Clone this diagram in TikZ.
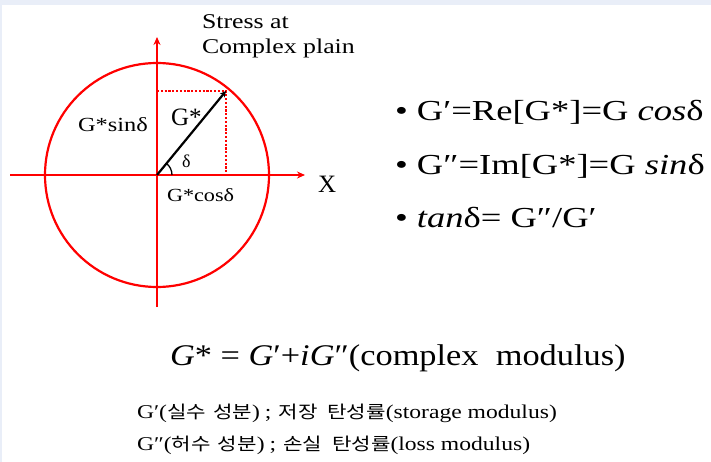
\documentclass[tikz,border=0pt]{standalone}
\usepackage{graphicx}
\usepackage{fontspec}
\setmainfont{Liberation Serif}
\newfontfamily\kr{Noto Sans CJK KR}
\usetikzlibrary{arrows.meta}
\definecolor{band}{HTML}{E9EEF8}
\definecolor{axisred}{HTML}{FF0000}
\newcommand{\fs}[1]{\fontsize{#1}{#1}\selectfont}
\newcommand{\sx}[2]{\scalebox{#1}[1]{#2}}
\newcommand{\hg}[1]{{\kr\fs{17.5}#1}}
\tikzset{
  redline/.style={draw=axisred, line width=2.2pt},
  redaxis/.style={draw=axisred, line width=2pt, -{Stealth[length=8pt,width=7pt]}},
  dotline/.style={draw=axisred, line width=2.2pt, dash pattern=on 2.2pt off 1.6pt},
  vec/.style={draw=black, line width=2.2pt, -{Stealth[length=6pt,width=6pt]}},
  lbl/.style={anchor=base west, inner sep=0pt, outer sep=0pt, text=black},
}
\begin{document}
\begin{tikzpicture}[x=1pt,y=-1pt]
\useasboundingbox (0,0) rectangle (711,462);
\fill[white] (0,0) rectangle (711,462);
\fill[band] (0,0) rectangle (711,5);
\fill[band] (0,0) rectangle (2,462);
% axes and circle
\coordinate (O) at (157,175);
\coordinate (xl) at (10,175);
\coordinate (xr) at (305,175);
\coordinate (yb) at (157,307);
\coordinate (yt) at (157,37);
\coordinate (P) at (226,91);
\coordinate (Px) at (226,175);
\coordinate (Py) at (157,91);
\draw[redline] (O) circle[radius=112];
\draw[redaxis] (xl) -- (xr);
\draw[redaxis] (yb) -- (yt);
\draw[dotline] (Py) -- (P) -- (Px);
\draw[vec] (O) -- (P);
\draw[black, line width=1.3pt] ([shift={(0:15)}]O) arc[start angle=0, end angle=-51, radius=15];
% labels
\node[lbl, font=\fs{21}] (st1) at (202,29) {\sx{1.23}{Stress at}};
\node[lbl, font=\fs{21}] (st2) at (202,54) {\sx{1.23}{Complex plain}};
\node[lbl, font=\fs{25}] (gs) at (171,126) {G*};
\node[lbl, font=\fs{20}] (gsin) at (78,132) {\sx{1.22}{G*sinδ}};
\node[lbl, font=\fs{18}] (del) at (182,168) {δ};
\node[lbl, font=\fs{18.5}] (gcos) at (167,202) {\sx{1.2}{G*cosδ}};
\node[lbl, font=\fs{25}] (xx) at (318,193) {X};
% bullets
\node[lbl, font=\fs{29}] (b1) at (395,121) {\sx{1.26}{• G′=Re[G*]=G \textit{cos}δ}};
\node[lbl, font=\fs{29}] (b2) at (395,175) {\sx{1.26}{• G″=Im[G*]=G \textit{sin}δ}};
\node[lbl, font=\fs{29}] (b3) at (395,227) {\sx{1.26}{• \textit{tan}δ= G″/G′}};
% formula
\node[lbl, font=\fs{30}] (eq) at (170,365) {\sx{1.145}{\textit{G}* = \textit{G}′+\textit{iG}″(complex\ \ modulus)}};
% korean lines
\node[lbl, font=\fs{19.5}] (k1) at (137,418) {\sx{1.21}{G′(\hg{실수\hspace{6pt}성분})\hspace{4pt};\hspace{6pt}\hg{저장\hspace{8pt}탄성률}(storage modulus)}};
\node[lbl, font=\fs{19.5}] (k2) at (137,450) {\sx{1.21}{G″(\hg{허수\hspace{6pt}성분})\hspace{4pt};\hspace{6pt}\hg{손실\hspace{8pt}탄성률}(loss modulus)}};
\end{tikzpicture}
\end{document}
